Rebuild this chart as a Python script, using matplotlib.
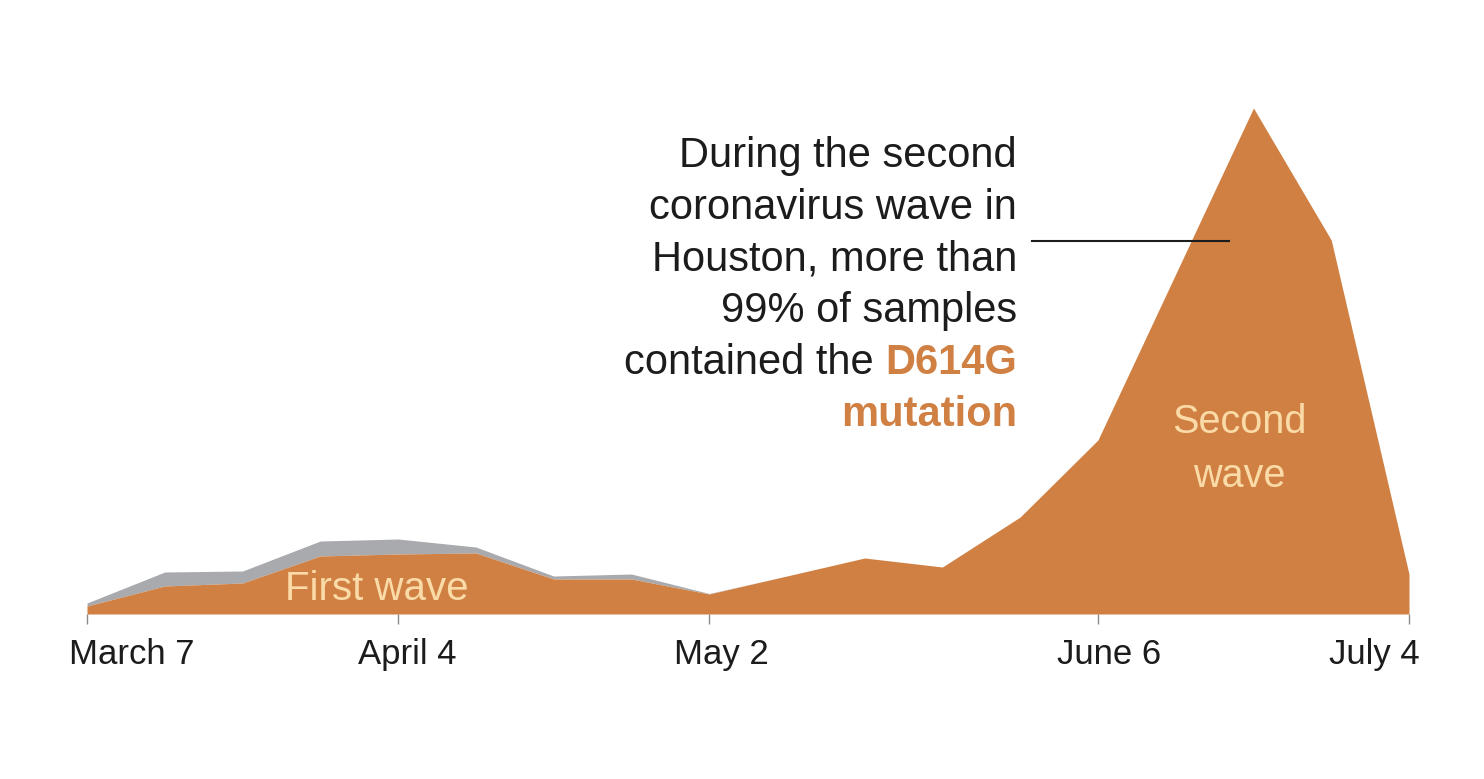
import matplotlib
matplotlib.use("Agg")
import matplotlib.pyplot as plt
import matplotlib.dates as mdates
import numpy as np
import pandas as pd

# ---- data (weekly samples, arbitrary units) ----
week_dates = ["2020-03-07", "2020-03-14", "2020-03-21", "2020-03-28", "2020-04-04",
              "2020-04-11", "2020-04-18", "2020-04-25", "2020-05-02", "2020-05-09",
              "2020-05-16", "2020-05-23", "2020-05-30", "2020-06-06", "2020-06-13",
              "2020-06-20", "2020-06-27", "2020-07-04"]
d614g_samples = [8, 28, 31, 58, 60, 61, 35, 35, 20, 38, 56, 47, 97, 174, 340, 506, 374, 40]
other_samples = [3, 14, 12, 15, 15, 6, 3, 5, 0.5, 0, 0, 0, 0, 0, 0, 0, 0, 0]
tick_dates = ["2020-03-07", "2020-04-04", "2020-05-02", "2020-06-06", "2020-07-04"]
tick_labels = ["March 7", "April 4", "May 2", "June 6", "July 4"]

# ---- styles ----
W, H, DPI = 1484, 779, 100
ORANGE = "#D08042"
GRAY = "#A9AAAE"
PEACH = "#FADBA8"
INK = "#1c1c1c"
FONT = "Liberation Sans"

fig = plt.figure(figsize=(W / DPI, H / DPI), dpi=DPI)
fig.patch.set_facecolor("white")

def fx(px):
    return px / W

def fy(py):
    return 1 - py / H

base_px, top_px = 614, 40
ax = fig.add_axes([fx(87), fy(base_px), (1409 - 87) / W, (base_px - top_px) / H])

x = mdates.date2num(pd.to_datetime(week_dates))
orange = np.array(d614g_samples, dtype=float)
gray = np.array(other_samples, dtype=float)

ax.fill_between(x, 0, orange, color=ORANGE, lw=0, zorder=2)
ax.fill_between(x, orange, orange + gray, color=GRAY, lw=0, zorder=1)

ax.set_xlim(x[0], x[-1])
ax.set_ylim(0, base_px - top_px)
for s in ax.spines.values():
    s.set_visible(False)
ax.set_yticks([])

tx = mdates.date2num(pd.to_datetime(tick_dates))
ax.set_xticks(tx)
ax.set_xticklabels([])
ax.tick_params(axis="x", length=7.2, width=1.0, color="#8a8a8a", direction="out")

label_dx = [44.7, 9.5, 12.5, 11, -35]
for t, lab, dx in zip(tx, tick_labels, label_dx):
    ax.annotate(lab, xy=(t, 0), xycoords="data", xytext=(dx, -50),
                textcoords="offset pixels", ha="center", va="baseline",
                fontsize=25, family=FONT, color=INK, annotation_clip=False)

# wave labels
fig.text(fx(377), fy(600), "First wave", ha="center", va="baseline",
         fontsize=29, family=FONT, color=PEACH)
fig.text(fx(1239), fy(433), "Second", ha="center", va="baseline",
         fontsize=28.5, family=FONT, color=PEACH)
fig.text(fx(1239), fy(487), "wave", ha="center", va="baseline",
         fontsize=28.5, family=FONT, color=PEACH)

# annotation text
right = fx(1017)
lines = ["During the second", "coronavirus wave in", "Houston, more than", "99% of samples"]
base = 167
step = 51.7
for i, ln in enumerate(lines):
    fig.text(right, fy(base + i * step), ln, ha="right", va="baseline",
             fontsize=30, family=FONT, color=INK)
t_d = fig.text(right, fy(base + 4 * step), "D614G", ha="right", va="baseline",
               fontsize=30, family=FONT, color=ORANGE, fontweight="bold")
fig.text(right, fy(base + 5 * step), "mutation", ha="right", va="baseline",
         fontsize=30, family=FONT, color=ORANGE, fontweight="bold")
ax.annotate("contained the", xy=(0, 0), xycoords=t_d, xytext=(-8, 0),
            textcoords="offset points", ha="right", va="bottom",
            fontsize=30, family=FONT, color=INK, annotation_clip=False)

# leader line
fig.add_artist(plt.Line2D([fx(1032), fx(1229)], [fy(240.5), fy(240.5)],
                          color=INK, lw=1.5, zorder=5))

fig.savefig("out.png", dpi=DPI, facecolor="white")
